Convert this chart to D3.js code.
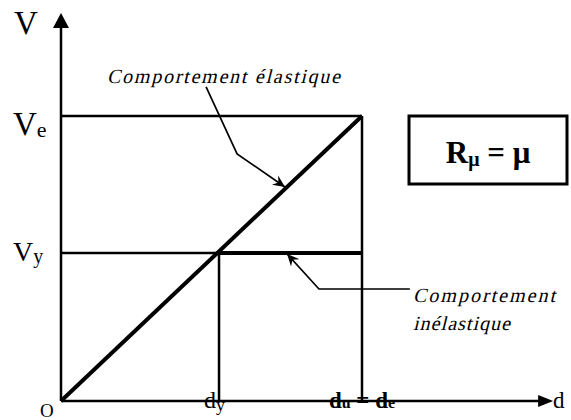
<!DOCTYPE html>
<html>
<head>
<meta charset="utf-8">
<script src="https://cdn.jsdelivr.net/npm/d3@7"></script>
<style>
  body { margin: 0; background: #fff; }
  text { font-family: "Liberation Serif", "DejaVu Serif", serif; fill: #000; }
</style>
</head>
<body>
<div id="chart-area"></div>
<script>
// Values in relative units: du = de = 1, Ve = 1
let elasticD = [0, 1];
let elasticV = [0, 1];
let plasticD = [0.525, 1];
let plasticV = [0.519, 0.519];
let levelValues = [0.519, 1];          // Vy, Ve
let levelNames = ["y", "e"];
let dMarks = [0.525, 1];               // dy, du = de
let axisMax = {d: 1.635, V: 1.361};
// leader lines of the annotations (data units)
let elasticLeader = [[0.482, 1.102], [0.585, 0.867], [0.744, 0.751]];
let plasticLeader = [[1.159, 0.393], [0.857, 0.393], [0.751, 0.516]];
let notes = ["Comportement élastique", "Comportement", "inélastique"];

let width = 571, height = 420;

let svg = d3.select("#chart-area").append("svg")
    .attr("width", width)
    .attr("height", height);

let x = d3.scaleLinear().domain([0, 1]).range([61, 362]);
let y = d3.scaleLinear().domain([0, 1]).range([401, 116]);

// leader arrow marker
svg.append("defs").append("marker")
    .attr("id", "barb")
    .attr("viewBox", "-12 -6 13 12")
    .attr("refX", 0).attr("refY", 0)
    .attr("markerWidth", 13).attr("markerHeight", 12)
    .attr("markerUnits", "userSpaceOnUse")
    .attr("orient", "auto")
    .append("path")
    .attr("d", "M0,0 L-12,-5.5 L-8,0 L-12,5.5 Z")
    .attr("fill", "#000");

// axes
svg.append("line")
    .attr("x1", x(0)).attr("y1", y(0))
    .attr("x2", x(axisMax.d) - 14).attr("y2", y(0))
    .attr("stroke", "#000").attr("stroke-width", 2.5);
svg.append("path")
    .attr("d", `M${x(axisMax.d)},${y(0)} l-15,-6 l0,12 Z`)
    .attr("fill", "#000");

svg.append("line")
    .attr("x1", x(0)).attr("y1", y(0))
    .attr("x2", x(0)).attr("y2", y(axisMax.V) + 14)
    .attr("stroke", "#000").attr("stroke-width", 2.5);
svg.append("path")
    .attr("d", `M${x(0)},${y(axisMax.V)} l-8,15 l16,0 Z`)
    .attr("fill", "#000");

// reference lines
svg.append("line")
    .attr("x1", x(0)).attr("y1", y(levelValues[1]))
    .attr("x2", x(1)).attr("y2", y(levelValues[1]))
    .attr("stroke", "#000").attr("stroke-width", 2.5);
svg.append("line")
    .attr("x1", x(0)).attr("y1", y(levelValues[0]))
    .attr("x2", x(plasticD[0])).attr("y2", y(levelValues[0]))
    .attr("stroke", "#000").attr("stroke-width", 2.5);
svg.append("line")
    .attr("x1", x(dMarks[1])).attr("y1", y(levelValues[1]))
    .attr("x2", x(dMarks[1])).attr("y2", y(0))
    .attr("stroke", "#000").attr("stroke-width", 2.5);
svg.append("line")
    .attr("x1", x(dMarks[0])).attr("y1", y(levelValues[0]))
    .attr("x2", x(dMarks[0])).attr("y2", y(0))
    .attr("stroke", "#000").attr("stroke-width", 2.5);

// behaviour curves
let line = d3.line().x(d => x(d[0])).y(d => y(d[1]));
svg.append("path")
    .datum(d3.zip(elasticD, elasticV))
    .attr("d", line)
    .attr("fill", "none").attr("stroke", "#000").attr("stroke-width", 4);
svg.append("path")
    .datum(d3.zip(plasticD, plasticV))
    .attr("d", line)
    .attr("fill", "none").attr("stroke", "#000").attr("stroke-width", 4);

// annotation leaders
[elasticLeader, plasticLeader].forEach(pts => {
    svg.append("path")
        .datum(pts)
        .attr("d", line)
        .attr("fill", "none")
        .attr("stroke", "#000")
        .attr("stroke-width", 1.7)
        .attr("marker-end", "url(#barb)");
});

// axis labels
svg.append("text").attr("x", 14).attr("y", 34)
    .style("font-size", "33px").text("V");
svg.append("text").attr("x", 553).attr("y", 408)
    .style("font-size", "23px").text("d");
svg.append("text").attr("x", 40).attr("y", 417)
    .style("font-size", "19px").text("O");

// level labels
levelValues.forEach((v, i) => {
    let t = svg.append("text")
        .attr("x", 13)
        .attr("y", y(v) + (i === 1 ? 19 : 8))
        .style("font-size", i === 1 ? "33px" : "28px");
    t.append("tspan").text("V");
    t.append("tspan").attr("dy", 2)
        .style("font-size", i === 1 ? "22px" : "20px")
        .text(levelNames[i]);
});

// d labels
let dyLabel = svg.append("text").attr("x", 204).attr("y", 408)
    .style("font-size", "24px");
dyLabel.append("tspan").text("d");
dyLabel.append("tspan").attr("dy", 3).style("font-size", "18px").text("y");

let duLabel = svg.append("text").attr("x", x(dMarks[1])).attr("y", 408)
    .attr("text-anchor", "middle")
    .style("font-size", "23px").style("font-weight", "bold");
duLabel.append("tspan").text("d");
duLabel.append("tspan").style("font-size", "16px").text("u");
duLabel.append("tspan").text(" = d");
duLabel.append("tspan").style("font-size", "16px").text("e");

// annotation texts (slanted serif, the italic face is not available)
let notePos = [[107, 83, 233], [413, 302, 142], [413, 330, 97]];
notes.forEach((s, i) => {
    svg.append("text")
        .attr("transform", `translate(${notePos[i][0]},${notePos[i][1]}) skewX(-14)`)
        .attr("textLength", notePos[i][2]).attr("lengthAdjust", "spacing")
        .style("font-size", "20px")
        .text(s);
});

// ductility box
svg.append("rect")
    .attr("x", 409).attr("y", 116)
    .attr("width", 158).attr("height", 68)
    .attr("fill", "none").attr("stroke", "#000").attr("stroke-width", 3);
let rLabel = svg.append("text").attr("x", 488).attr("y", 163)
    .attr("text-anchor", "middle")
    .style("font-size", "31px").style("font-weight", "bold");
rLabel.append("tspan").text("R");
rLabel.append("tspan").attr("dy", 3).style("font-size", "20px").text("μ");
rLabel.append("tspan").attr("dy", -3).text(" = μ");
</script>
</body>
</html>
